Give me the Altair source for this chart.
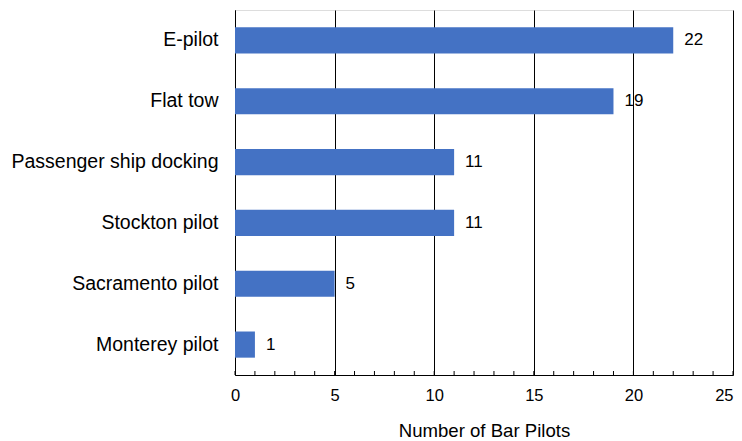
import altair as alt
import pandas as pd

categories = ["E-pilot", "Flat tow", "Passenger ship docking", "Stockton pilot", "Sacramento pilot", "Monterey pilot"]
values = [22, 19, 11, 11, 5, 1]
x_ticks = [0, 5, 10, 15, 20, 25]
minor_ticks = list(range(0, 26))

df = pd.DataFrame({"category": categories, "value": values})
ticks_df = pd.DataFrame({"v": minor_ticks})

FONT = "Liberation Sans"

y_enc = alt.Y("category:N", sort=categories,
              scale=alt.Scale(paddingInner=0.57, paddingOuter=0.285),
              axis=alt.Axis(title=None, ticks=False, domain=True, domainColor="black",
                            labelFontSize=19.5, labelFont=FONT, labelColor="black",
                            labelPadding=17, labelLimit=0, grid=False))

x_scale = alt.Scale(domain=[0, 25], nice=False)

bars = alt.Chart(df).mark_bar(color="#4472C4").encode(
    x=alt.X("value:Q", scale=x_scale,
            axis=alt.Axis(title="Number of Bar Pilots", values=x_ticks, grid=True,
                          gridColor="black", gridWidth=1, gridOpacity=1,
                          ticks=False, domain=True, domainColor="black",
                          labelFlush=False,
                          labelAlign=alt.expr("datum.value >= 25 ? 'right' : 'center'"),
                          labelFontSize=16.5, labelFont=FONT, labelColor="black",
                          labelPadding=12, titleFontSize=18.6, titleFont=FONT,
                          titleFontWeight="normal", titleColor="black", titlePadding=18)),
    y=y_enc,
)

labels = alt.Chart(df).mark_text(align="left", baseline="middle", dx=11,
                                 fontSize=17, font=FONT, color="black").encode(
    x=alt.X("value:Q", scale=x_scale),
    y=alt.Y("category:N", sort=categories),
    text="value:Q",
)

minor = alt.Chart(ticks_df).mark_rule(color="black", strokeWidth=1).encode(
    x=alt.X("v:Q", scale=x_scale),
    y=alt.value(365),
    y2=alt.value(361),
)

chart = alt.layer(bars, labels, minor).properties(
    width=498, height=365,
    autosize=alt.AutoSizeParams(type="none"),
    padding={"left": 227, "top": 2, "right": 1, "bottom": 68},
).configure_view(stroke="#888", strokeWidth=1).configure(background="white")

chart.save("out.html", embed_options={"renderer": "svg", "actions": False})
